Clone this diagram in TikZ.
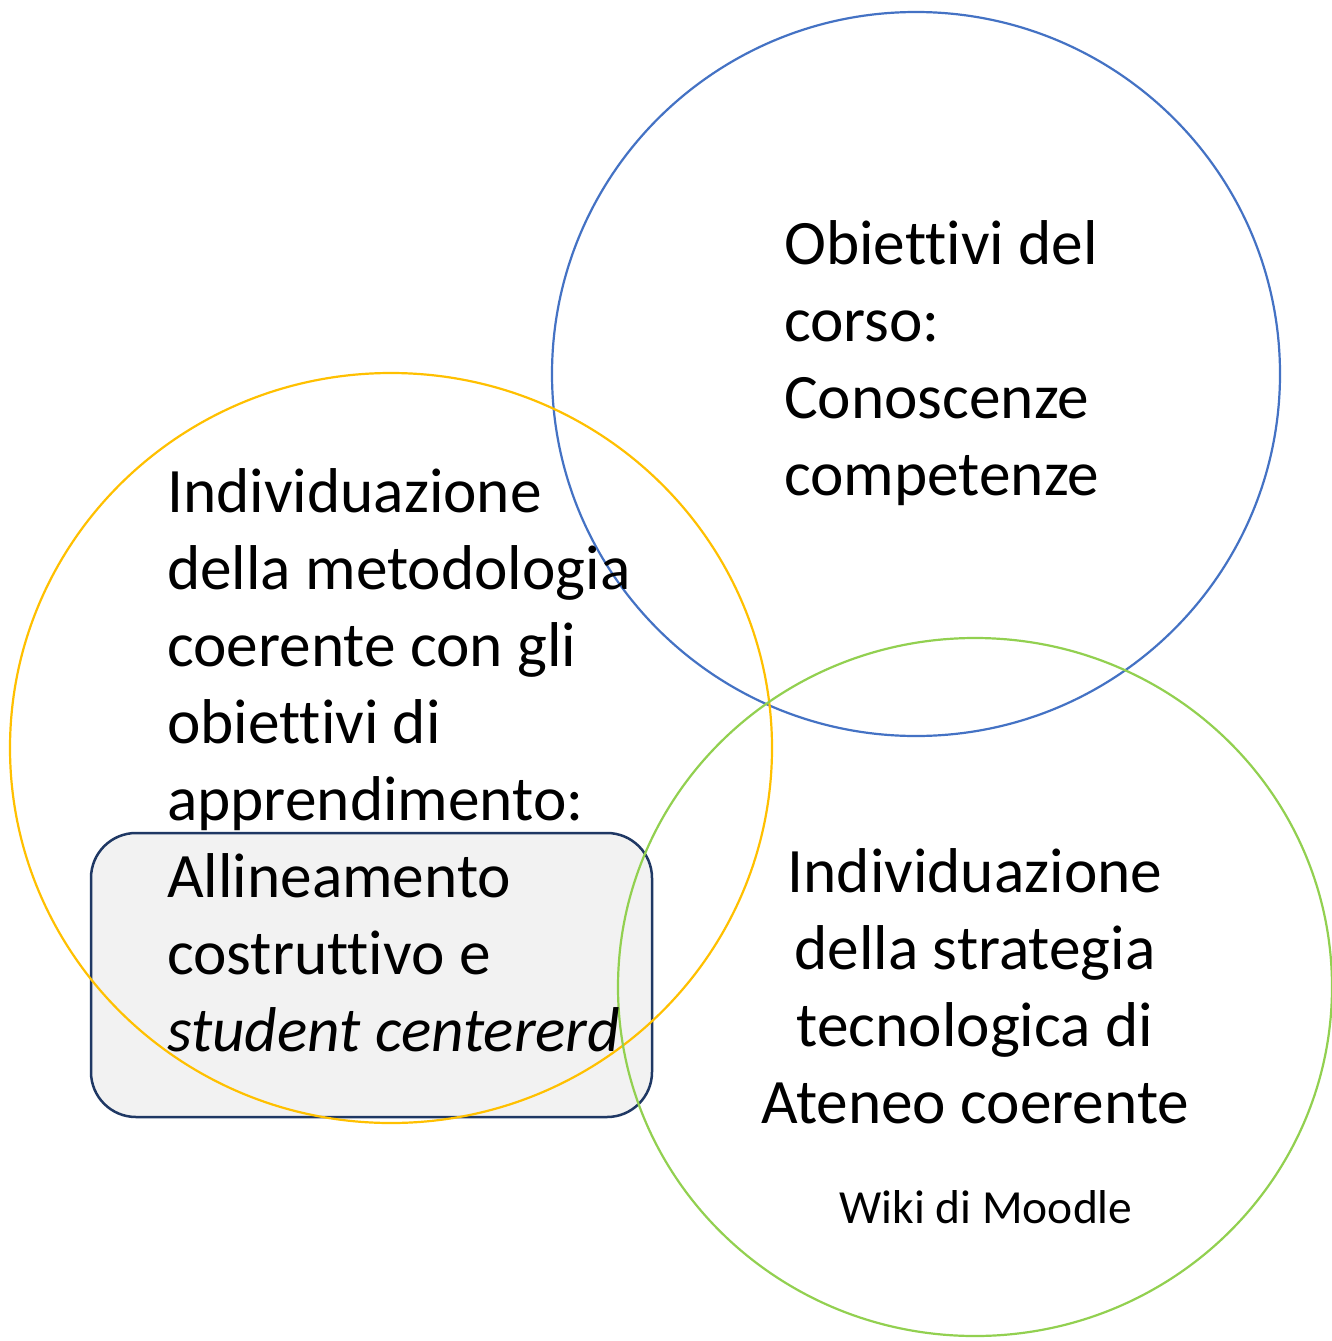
\documentclass[tikz,border=0pt]{standalone}
\usepackage{fontspec}
\setmainfont[Ligatures=NoCommon]{Carlito}
\definecolor{cblue}{HTML}{4472C4}
\definecolor{cyellow}{HTML}{FFC000}
\definecolor{cgreen}{HTML}{92D050}
\definecolor{cfill}{HTML}{F2F2F2}
\definecolor{cnavy}{HTML}{1F3864}
\tikzset{
  bigtext/.style={inner sep=0pt, font=\fontsize{63.3}{77}\selectfont},
  ring/.style={line width=2.2pt},
}
\begin{document}
\begin{tikzpicture}[x=1pt,y=-1pt]
\useasboundingbox (0,0) rectangle (1332,1341);
\fill[white] (0,0) rectangle (1332,1341);
% rounded box
\node[draw=cnavy, fill=cfill, line width=2.5pt, rounded corners=45pt,
      minimum width=561pt, minimum height=284pt, inner sep=0pt] (box) at (371.5,975) {};
% circles
\draw[ring, cblue] (916,374) ellipse [x radius=364pt, y radius=362pt];
\draw[ring, cyellow] (391,748) ellipse [x radius=381pt, y radius=375pt];
\draw[ring, cgreen] (975,987) ellipse [x radius=357pt, y radius=349pt];
% texts (anchor = baseline of the last line)
\node[bigtext, align=left, anchor=base west] (obj) at (784,495)
  {Obiettivi del\\corso:\\Conoscenze\\competenze};
\node[bigtext, align=left, anchor=base west] (met) at (167,1051)
  {Individuazione\\della metodologia\\coerente con gli\\obiettivi di\\apprendimento:\\Allineamento\\costruttivo e\\\textit{student centererd}};
\node[bigtext, align=center, anchor=base] (tec) at (975,1123)
  {Individuazione\\della strategia\\tecnologica di\\Ateneo coerente};
\node[inner sep=0pt, font=\fontsize{47.5}{57}\selectfont, anchor=base] (wiki) at (986,1223) {Wiki di Moodle};
\end{tikzpicture}
\end{document}
